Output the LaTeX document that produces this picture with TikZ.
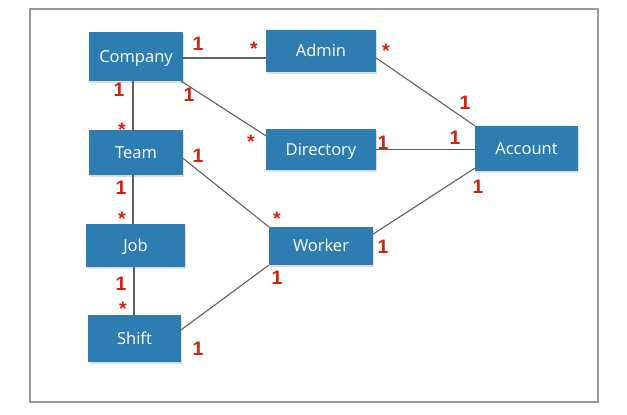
\documentclass[tikz,border=0pt]{standalone}
\usepackage{fontspec}
\usepackage{tikz}
\usetikzlibrary{shadows}
\newfontfamily\boxfont{Open Sans}
\newfontfamily\labfont{Liberation Sans}
\definecolor{boxblue}{RGB}{46,125,178}
\definecolor{multred}{RGB}{212,32,12}
\definecolor{linegray}{RGB}{95,95,100}
\tikzset{
    entity/.style={
        fill=boxblue, text=white, inner sep=0pt,
        text height=11.8pt, text depth=0pt,
        font=\boxfont\fontsize{16.5}{18}\selectfont,
        drop shadow={shadow xshift=1pt, shadow yshift=-1.5pt, fill=black!22, opacity=0.6}
    },
    assoc/.style={draw=linegray, line width=1.1pt},
    one/.style={text=multred, inner sep=0pt, text height=14pt, text depth=0pt,
        font=\labfont\bfseries\fontsize{19.5}{19.5}\selectfont},
    many/.style={one, yshift=-3pt}
}

\begin{document}
\begin{tikzpicture}[x=1pt, y=-1pt]
\useasboundingbox (0,0) rectangle (627,415);
\draw[black!40, line width=1.6pt] (30,9) rectangle (598,402);
% classes
\node[entity, minimum width=94pt, minimum height=49pt] (C) at (136,56.5) {Company};
\node[entity, minimum width=110pt, minimum height=42pt] (A) at (321,51) {Admin};
\node[entity, minimum width=94pt, minimum height=45pt] (T) at (136,152.5) {Team};
\node[entity, minimum width=110pt, minimum height=41pt] (D) at (321,149.5) {Directory};
\node[entity, minimum width=103pt, minimum height=45pt] (Acc) at (526.5,148.5) {Account};
\node[entity, minimum width=99pt, minimum height=43pt] (J) at (135.5,245.5) {Job};
\node[entity, minimum width=104pt, minimum height=38pt] (W) at (321,246) {Worker};
\node[entity, minimum width=93pt, minimum height=47pt] (S) at (134.5,338.5) {Shift};
% associations
\draw[assoc] ([yshift=-1.5pt]C.east) -- ([yshift=-1.5pt]C.east -| A.west);
\draw[assoc] ([xshift=-2pt]C.south east) -- ([yshift=-7pt]D.north west);
\draw[assoc] ([xshift=-3pt]C.south) -- ([xshift=-3pt]T.north);
\draw[assoc] ([yshift=-7pt]A.east) -- (Acc.north west);
\draw[assoc] (D.east) -- (D.east -| Acc.west);
\draw[assoc] ([yshift=-6pt]T.east) -- (W.north west);
\draw[assoc] ([xshift=-3pt]T.south) -- ([xshift=-2.5pt]J.north);
\draw[assoc] ([xshift=-1.5pt]J.south) -- ([xshift=-0.5pt]S.north);
\draw[assoc] ([yshift=12pt]W.east) -- ([yshift=3pt]Acc.south west);
\draw[assoc] ([yshift=6.5pt,xshift=-3pt]S.east) -- (W.south west);
% multiplicities
\node[one] (m1) at (198,43) {1};
\node[many] (m2) at (254,45) {*};
\node[one] (m3) at (119,89) {1};
\node[one] (m4) at (189,94) {1};
\node[many] (m5) at (122,126) {*};
\node[many] (m6) at (251,138) {*};
\node[one] (m7) at (198,155) {1};
\node[one] (m8) at (121,187) {1};
\node[many] (m9) at (386,47) {*};
\node[one] (m10) at (465,102) {1};
\node[one] (m11) at (383,142) {1};
\node[one] (m12) at (455,137) {1};
\node[one] (m13) at (478,186) {1};
\node[many] (m14) at (122,215) {*};
\node[many] (m15) at (277,215) {*};
\node[one] (m16) at (121,283) {1};
\node[one] (m17) at (277,277) {1};
\node[many] (m18) at (123,305) {*};
\node[one] (m19) at (198,348) {1};
\node[one] (m20) at (383,246) {1};
\end{tikzpicture}
\end{document}
